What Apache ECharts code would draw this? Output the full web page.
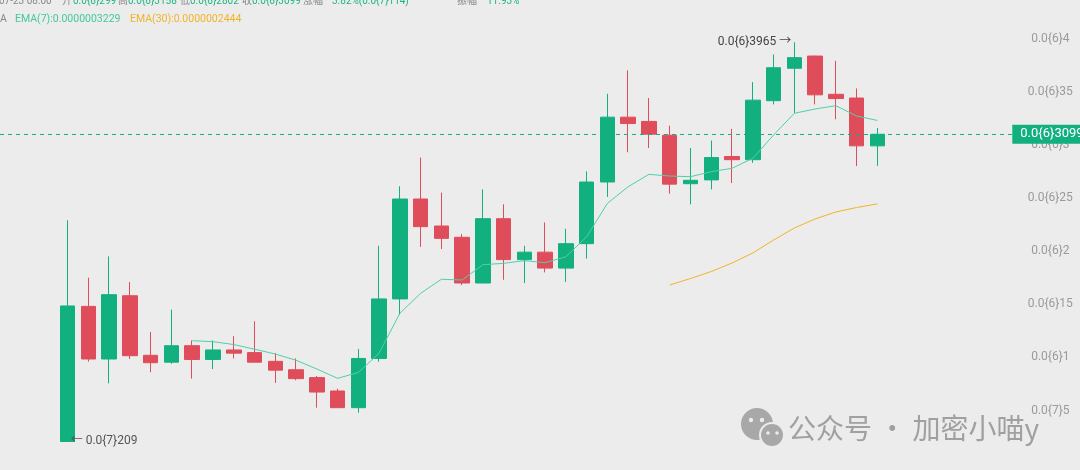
<!DOCTYPE html>
<html>
<head>
<meta charset="utf-8">
<script src="https://cdn.jsdelivr.net/npm/echarts@6/dist/echarts.min.js"></script>
<style>
html,body{margin:0;padding:0;background:#ececec;}
#c{width:1080px;height:470px;}
</style>
</head>
<body>
<div id="c"></div>
<script>
// Prices in units of 1e-7 (0.0{6}4 = 4.0, 0.0{7}5 = 0.5)
const categories = Array.from({length: 40}, (_, i) => 'K' + (i + 1));
const opens  = [0.209,1.48,0.985,1.58,1.02,0.955,1.11,0.98,1.07,1.045,0.963,0.884,0.81,0.684,0.527,0.99,1.55,2.49,2.236,2.13,1.70,2.305,1.92,1.99,1.84,2.07,2.65,3.26,3.22,3.09,2.634,2.67,2.89,2.86,3.415,3.72,3.835,3.475,3.44,2.99];
const closes = [1.484,0.985,1.59,1.016,0.95,1.11,0.98,1.07,1.04,0.955,0.88,0.80,0.674,0.527,0.99,1.55,2.49,2.23,2.12,1.70,2.305,1.92,1.99,1.84,2.07,2.65,3.26,3.20,3.10,2.63,2.666,2.88,2.86,3.42,3.725,3.82,3.47,3.435,2.99,3.099];
const lows   = [0.209,0.96,0.756,0.985,0.86,0.94,0.80,0.89,0.99,0.955,0.76,0.785,0.527,0.527,0.48,0.96,1.40,2.04,2.02,1.68,1.70,1.73,1.70,1.80,1.71,1.93,2.51,2.93,2.97,2.54,2.44,2.58,2.64,2.83,3.38,3.30,3.38,3.24,2.80,2.802];
const highs  = [2.29,1.75,1.95,1.71,1.24,1.45,1.16,1.16,1.20,1.34,1.04,0.99,0.825,0.705,1.08,2.05,2.61,2.88,2.55,2.16,2.58,2.44,2.05,2.27,2.21,2.75,3.48,3.70,3.44,3.18,2.97,3.04,3.15,3.59,3.85,3.965,3.84,3.79,3.53,3.158];
const ema7   = [null,null,null,null,null,null,1.157,1.148,1.121,1.077,1.032,0.973,0.891,0.803,0.858,1.039,1.415,1.603,1.735,1.728,1.872,1.885,1.910,1.891,1.947,2.135,2.450,2.606,2.722,2.706,2.700,2.747,2.779,2.873,3.092,3.296,3.337,3.368,3.271,3.229];
const ema30  = [null,null,null,null,null,null,null,null,null,null,null,null,null,null,null,null,null,null,null,null,null,null,null,null,null,null,null,null,null,1.681,1.742,1.808,1.888,1.982,2.104,2.217,2.302,2.368,2.410,2.444];
const yTickValues = [0.5,1,1.5,2,2.5,3,3.5,4];
const yTickLabels = ['0.0{7}5','0.0{6}1','0.0{6}15','0.0{6}2','0.0{6}25','0.0{6}3','0.0{6}35','0.0{6}4'];
const lastPriceLabel = '0.0{6}3099';
const lowLabel = '0.0{7}209';
const highLabel = '0.0{6}3965';
const headerItems = [
  ['07-23 08:00','#888'],['开','#888'],['0.0{6}299','#1db583'],['高','#888'],['0.0{6}3158','#1db583'],
  ['低','#888'],['0.0{6}2802','#1db583'],['收','#888'],['0.0{6}3099','#1db583'],['涨幅','#888'],
  ['3.82%(0.0{7}114)','#1db583'],['振幅','#888'],['11.93%','#1db583']
];
const headerX = [-1,62,73,118,128,180,190,242,252,303,332,457,487];
const emaLegend = [['A','#888'],['EMA(7):0.0000003229','#45c79f'],['EMA(30):0.0000002444','#f0b429']];
const emaLegendX = [0,15,130];

const UP = '#12b07f', DOWN = '#df4d5b';
const padAfter = 6;
const xCats = categories.concat(Array.from({length: padAfter}, (_, i) => 'q' + i));
const padData = arr => arr.concat(Array(padAfter).fill('-'));
const kData = categories.map((_, i) => [opens[i], closes[i], lows[i], highs[i]]);
let lowIdx = 0, highIdx = 0;
lows.forEach((v, i) => { if (v < lows[lowIdx]) lowIdx = i; });
highs.forEach((v, i) => { if (v > highs[highIdx]) highIdx = i; });
const lastClose = closes[closes.length - 1];

const FONT = 'Roboto, "Noto Sans CJK SC", sans-serif';
const graphics = [];
headerItems.forEach((it, i) => graphics.push({type:'text', x: headerX[i], y: 1, z: 10,
  style:{text: it[0], fill: it[1], font: '10px ' + FONT, verticalAlign: 'middle'}}));
emaLegend.forEach((it, i) => graphics.push({type:'text', x: emaLegendX[i], y: 19, z: 10,
  style:{text: it[0], fill: it[1], font: '10.5px ' + FONT, verticalAlign: 'middle'}}));
// watermark
graphics.push({type:'circle', shape:{cx:757, cy:424, r:16}, style:{fill:'#a8a8a8'}, z: 1});
graphics.push({type:'circle', shape:{cx:772, cy:435, r:12}, style:{fill:'#a8a8a8', stroke:'#ececec', lineWidth:2}, z: 1});
graphics.push({type:'circle', shape:{cx:751, cy:420, r:2.2}, style:{fill:'#ececec'}, z: 2});
graphics.push({type:'circle', shape:{cx:762, cy:420, r:2.2}, style:{fill:'#ececec'}, z: 2});
graphics.push({type:'circle', shape:{cx:768, cy:433, r:1.8}, style:{fill:'#ececec'}, z: 2});
graphics.push({type:'circle', shape:{cx:777, cy:433, r:1.8}, style:{fill:'#ececec'}, z: 2});
graphics.push({type:'text', x: 788, y: 428, z: 1,
  style:{text:'公众号 · 加密小喵y', fill:'#a0a0a0', font:'28px "Noto Sans CJK SC", sans-serif', verticalAlign:'middle'}});

const GRID_TOP = 38.5, GRID_BOTTOM = 6.3, GRID_RIGHT = 67.7;
const chart = echarts.init(document.getElementById('c'), null, {renderer: 'canvas'});
chart.setOption({
  backgroundColor: '#ececec',
  animation: false,
  grid: [
    {left: 57.3, right: GRID_RIGHT, top: GRID_TOP, bottom: GRID_BOTTOM},
    {left: 0, right: GRID_RIGHT, top: GRID_TOP, bottom: GRID_BOTTOM}
  ],
  xAxis: [
    {type: 'category', gridIndex: 0, data: xCats, boundaryGap: true,
     axisLine: {show: false}, axisTick: {show: false}, axisLabel: {show: false}, splitLine: {show: false}},
    {type: 'category', gridIndex: 1, data: ['x'], show: false}
  ],
  yAxis: [
    {type: 'value', gridIndex: 0, position: 'right', min: 0, max: 4, interval: 0.5,
     axisLine: {show: false}, axisTick: {show: false}, splitLine: {show: false},
     axisLabel: {
       align: 'center', margin: 38, color: '#9a9a9a', fontSize: 12, fontFamily: FONT,
       formatter: v => { const k = yTickValues.indexOf(v); return k >= 0 ? yTickLabels[k] : ''; }
     }},
    {type: 'value', gridIndex: 1, min: 0, max: 4, show: false}
  ],
  graphic: graphics,
  series: [
    {
      type: 'candlestick', data: padData(kData), barWidth: 15, z: 3,
      itemStyle: {color: UP, color0: DOWN, borderColor: UP, borderColor0: DOWN, borderWidth: 1},
      markPoint: {
        symbol: 'circle', symbolSize: 0,
        data: [
          {coord: [lowIdx, lows[lowIdx]],
           label: {show: true, position: 'right', distance: 3, formatter: '← ' + lowLabel, color: '#555', fontSize: 12, fontFamily: FONT}},
          {coord: [highIdx, highs[highIdx]],
           label: {show: true, position: 'left', distance: 3, formatter: highLabel + ' →', color: '#444', fontSize: 12, fontFamily: FONT}}
        ]
      }
    },
    {type: 'line', data: padData(ema7), symbol: 'none', z: 4, lineStyle: {color: '#4fd0a7', width: 1}},
    {type: 'line', data: padData(ema30), symbol: 'none', z: 4, lineStyle: {color: '#f0b429', width: 1}},
    {
      type: 'line', xAxisIndex: 1, yAxisIndex: 1, data: ['-'], symbol: 'none', z: 2,
      markLine: {
        silent: true, symbol: ['none', 'none'],
        lineStyle: {color: UP, type: [4, 4], width: 1},
        label: {
          position: 'end', distance: 0, formatter: lastPriceLabel, color: '#fff',
          backgroundColor: UP, padding: [3, 4, 3, 8], fontSize: 13, fontFamily: FONT
        },
        data: [{yAxis: lastClose}]
      }
    }
  ]
});
</script>
</body>
</html>
